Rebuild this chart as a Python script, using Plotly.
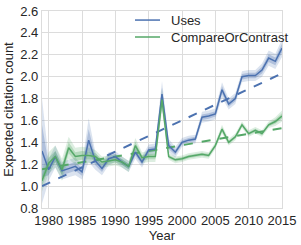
import plotly.graph_objects as go

years = list(range(1979, 2016))

uses = [1.32, 1.15, 1.27, 1.14, 1.16, 1.18, 1.13, 1.42, 1.23, 1.16,
        1.25, 1.27, 1.22, 1.18, 1.31, 1.22, 1.33, 1.34, 1.84, 1.37,
        1.31, 1.40, 1.42, 1.43, 1.63, 1.64, 1.66, 1.88, 1.75, 1.80,
        2.00, 2.01, 2.01, 2.06, 2.17, 2.14, 2.26]
uses_err = [0.48, 0.10, 0.10, 0.08, 0.08, 0.08, 0.07, 0.20, 0.08, 0.06,
            0.06, 0.05, 0.05, 0.05, 0.06, 0.05, 0.05, 0.05, 0.12, 0.06,
            0.05, 0.04, 0.04, 0.04, 0.05, 0.05, 0.05, 0.07, 0.05, 0.05,
            0.05, 0.05, 0.05, 0.06, 0.07, 0.07, 0.08]

comp = [1.05, 1.21, 1.27, 1.15, 1.35, 1.27, 1.28, 1.28, 1.27, 1.22,
        1.23, 1.24, 1.22, 1.18, 1.37, 1.26, 1.27, 1.27, 1.79, 1.27,
        1.24, 1.25, 1.27, 1.28, 1.29, 1.28, 1.37, 1.52, 1.40, 1.45,
        1.56, 1.48, 1.51, 1.48, 1.56, 1.59, 1.64]
comp_err = [0.10, 0.10, 0.10, 0.10, 0.10, 0.08, 0.08, 0.07, 0.06, 0.05,
            0.05, 0.05, 0.05, 0.05, 0.07, 0.05, 0.05, 0.05, 0.10, 0.03,
            0.03, 0.03, 0.03, 0.03, 0.03, 0.03, 0.03, 0.04, 0.03, 0.03,
            0.03, 0.03, 0.03, 0.03, 0.03, 0.04, 0.05]

trend_years = [1979, 2015]
uses_trend = [1.00, 2.03]
comp_trend = [1.155, 1.53]

series_names = ["Uses", "CompareOrContrast"]

BLUE = "#4c72b0"
GREEN = "#55a868"

def rgba(hexc, a):
    h = hexc.lstrip("#")
    return "rgba(%d,%d,%d,%.2f)" % (int(h[0:2], 16), int(h[2:4], 16), int(h[4:6], 16), a)

fig = go.Figure()

def add_band(vals, err, color, scale, alpha):
    up = [v + e * scale for v, e in zip(vals, err)]
    lo = [v - e * scale for v, e in zip(vals, err)]
    fig.add_trace(go.Scatter(x=years, y=up, mode="lines", line=dict(width=0),
                             showlegend=False, hoverinfo="skip"))
    fig.add_trace(go.Scatter(x=years, y=lo, mode="lines", line=dict(width=0),
                             fill="tonexty", fillcolor=rgba(color, alpha),
                             showlegend=False, hoverinfo="skip"))

for vals, err, col in [(uses, uses_err, BLUE), (comp, comp_err, GREEN)]:
    add_band(vals, err, col, 1.0, 0.2)
    add_band(vals, err, col, 0.5, 0.3)

fig.add_trace(go.Scatter(x=trend_years, y=uses_trend, mode="lines", showlegend=False,
                         line=dict(color=BLUE, width=2, dash="dash")))
fig.add_trace(go.Scatter(x=trend_years, y=comp_trend, mode="lines", showlegend=False,
                         line=dict(color=GREEN, width=2, dash="dash")))
fig.add_trace(go.Scatter(x=years, y=uses, mode="lines", name=series_names[0], showlegend=False,
                         line=dict(color=BLUE, width=1.5)))
fig.add_trace(go.Scatter(x=years, y=comp, mode="lines", name=series_names[1], showlegend=False,
                         line=dict(color=GREEN, width=1.5)))

# legend drawn by hand (matplotlib-like spacing)
for name, col, yy in [(series_names[0], BLUE, 0.954), (series_names[1], GREEN, 0.868)]:
    fig.add_shape(type="line", xref="paper", yref="paper", x0=0.3875, x1=0.4917,
                  y0=yy, y1=yy, line=dict(color=col, width=1.5))
    fig.add_annotation(xref="paper", yref="paper", x=0.53, y=yy, text=name,
                       showarrow=False, xanchor="left", yanchor="middle",
                       font=dict(size=13, color="#262626"))

axis_common = dict(showgrid=True, gridcolor="#dcdcdc", gridwidth=1.3,
                   showline=True, linecolor="#dcdcdc", linewidth=1.3, mirror=True,
                   zeroline=False, ticks="", tickfont=dict(size=13, color="#262626"))

fig.update_xaxes(range=[1979, 2015], tickvals=[1980, 1985, 1990, 1995, 2000, 2005, 2010, 2015],
                 ticklabelstandoff=0,
                 title=dict(text="Year", font=dict(size=13, color="#262626"), standoff=0),
                 **axis_common)
fig.update_yaxes(range=[0.8, 2.6], dtick=0.2, tick0=0.8, tickformat=".1f",
                 title=dict(text="Expected citation count", font=dict(size=13, color="#262626"), standoff=3),
                 **axis_common)

fig.update_layout(
    width=301, height=245,
    margin=dict(l=42, r=19, t=11, b=37, autoexpand=False),
    plot_bgcolor="white", paper_bgcolor="white",
    font=dict(family="Liberation Sans, Arial, sans-serif", color="#262626"),
    showlegend=False,
)

fig.write_html("out.html", config={"displayModeBar": False},
               post_script="document.body.style.margin='0';document.body.style.overflow='hidden';")
